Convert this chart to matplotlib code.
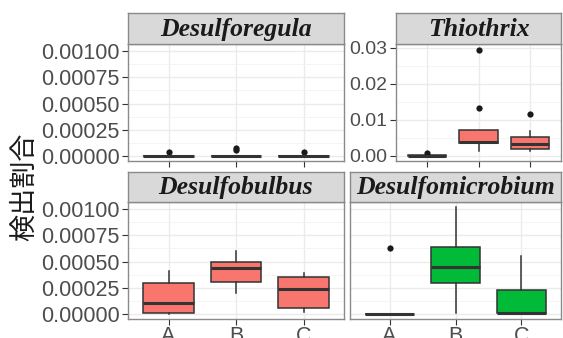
import matplotlib.pyplot as plt
from matplotlib.ticker import FixedLocator

# --- data (detection ratio per site) ---
groups = ["A", "B", "C"]
panel_names = ["Desulforegula", "Thiothrix", "Desulfobulbus", "Desulfomicrobium"]

# Desulforegula
dreg_lo = [0.0, 0.0, 0.0]
dreg_q1 = [0.0, 0.0, 0.0]
dreg_med = [0.0, 0.0, 0.0]
dreg_q3 = [0.0, 0.0, 0.0]
dreg_hi = [0.0, 0.0, 0.0]
dreg_out = [[0.000035], [0.000058, 0.000077], [0.000032]]

# Thiothrix
thio_lo = [0.0, 0.0012, 0.0012]
thio_q1 = [0.0, 0.0034, 0.00175]
thio_med = [0.0, 0.0039, 0.0031]
thio_q3 = [0.0001, 0.0071, 0.0051]
thio_hi = [0.0001, 0.0071, 0.0068]
thio_out = [[0.0006], [0.0131, 0.0294], [0.0116]]

# Desulfobulbus
dbul_lo = [0.0, 0.000203, 0.000016]
dbul_q1 = [0.000005, 0.000303, 0.000053]
dbul_med = [0.0001, 0.000434, 0.000234]
dbul_q3 = [0.000297, 0.0005, 0.00035]
dbul_hi = [0.000406, 0.0006, 0.00039]
dbul_out = [[], [], []]

# Desulfomicrobium
dmic_lo = [0.0, 0.00001, 0.0]
dmic_q1 = [0.0, 0.000297, 0.000003]
dmic_med = [0.0, 0.000443, 0.00001]
dmic_q3 = [0.0, 0.000637, 0.000228]
dmic_hi = [0.0, 0.00102, 0.000553]
dmic_out = [[0.000625], [], []]

small_ticks = [0.0, 0.00025, 0.0005, 0.00075, 0.001]
small_labels = ["0.00000", "0.00025", "0.00050", "0.00075", "0.00100"]
thio_ticks = [0.0, 0.01, 0.02, 0.03]
thio_labels = ["0.00", "0.01", "0.02", "0.03"]

RED = "#F8766D"
GREEN = "#00BA38"
DARK = "#333333"
TICK_TXT = "#4D4D4D"
FRAME = "#8A8A8A"

W, H = 563, 338
fig = plt.figure(figsize=(W / 100, H / 100), dpi=100)


def px_axes(x0, y0, x1, y1):
    # pixel box measured from the top-left corner of the image
    return fig.add_axes([x0 / W, 1 - y1 / H, (x1 - x0) / W, (y1 - y0) / H])


def make_stats(lo, q1, med, q3, hi, out):
    return [dict(whislo=lo[i], q1=q1[i], med=med[i], q3=q3[i], whishi=hi[i],
                 fliers=out[i]) for i in range(len(groups))]


def draw_panel(box, strip, title, stats, colour, ylim, ticks, labels,
               show_y, show_x, ysize=15.5):
    ax = px_axes(*box)
    ax.set_facecolor("white")
    ax.bxp(stats, positions=[1, 2, 3], widths=0.75, patch_artist=True,
           showcaps=False,
           boxprops=dict(facecolor=colour, edgecolor=DARK, linewidth=1.1),
           medianprops=dict(color=DARK, linewidth=2.2),
           whiskerprops=dict(color=DARK, linewidth=1.1),
           flierprops=dict(marker="o", markerfacecolor="#1a1a1a",
                           markeredgecolor="none", markersize=4.5))
    ax.set_xlim(0.4, 3.6)
    ax.set_ylim(*ylim)

    ax.yaxis.set_major_locator(FixedLocator(ticks))
    step = ticks[1] - ticks[0]
    minors = [t + step / 2 for t in ticks]
    ax.yaxis.set_minor_locator(FixedLocator(minors))
    ax.set_xticks([1, 2, 3])
    ax.grid(True, which="major", color="#EBEBEB", linewidth=1.0, zorder=0)
    ax.grid(True, which="minor", axis="y", color="#F2F2F2", linewidth=0.6,
            zorder=0)
    ax.set_axisbelow(True)

    if show_y:
        ax.set_yticklabels(labels)
        ax.tick_params(axis="y", which="major", length=4, width=0.8,
                       color=DARK, labelsize=ysize, labelcolor=TICK_TXT, pad=2)
    else:
        ax.tick_params(axis="y", which="major", length=0, labelleft=False)
    ax.tick_params(axis="y", which="minor", length=0)

    if show_x:
        ax.set_xticklabels(groups)
        ax.tick_params(axis="x", length=4, width=0.8, color=DARK,
                       labelsize=15.5, labelcolor=TICK_TXT, pad=1)
    else:
        ax.tick_params(axis="x", length=4, width=0.8, color=DARK,
                       labelbottom=False)
    for t in ax.get_yticklabels() + ax.get_xticklabels():
        t.set_family("Liberation Sans")
    for s in ax.spines.values():
        s.set_color(FRAME)
        s.set_linewidth(1.0)

    st = px_axes(*strip)
    st.set_facecolor("#D9D9D9")
    st.set_xticks([])
    st.set_yticks([])
    for s in st.spines.values():
        s.set_color(FRAME)
        s.set_linewidth(1.0)
    st.text(0.5, 0.47, title, transform=st.transAxes, ha="center",
            va="center", fontsize=18.5, fontweight="bold", fontstyle="italic",
            family="Liberation Serif", color="#1a1a1a")
    return ax


shared_ylim = (-0.00005, 0.00107)
thio_ylim = (-0.0015, 0.031)

draw_panel((128, 44, 344, 161), (128, 13, 344, 44), panel_names[0],
           make_stats(dreg_lo, dreg_q1, dreg_med, dreg_q3, dreg_hi, dreg_out),
           RED, shared_ylim, small_ticks, small_labels, True, False)
draw_panel((396, 44, 561, 161), (396, 13, 561, 44), panel_names[1],
           make_stats(thio_lo, thio_q1, thio_med, thio_q3, thio_hi, thio_out),
           RED, thio_ylim, thio_ticks, thio_labels, True, False, ysize=14)
draw_panel((128, 202, 344, 319), (128, 172, 344, 202), panel_names[2],
           make_stats(dbul_lo, dbul_q1, dbul_med, dbul_q3, dbul_hi, dbul_out),
           RED, shared_ylim, small_ticks, small_labels, True, True)
draw_panel((350, 202, 561, 319), (350, 172, 561, 202), panel_names[3],
           make_stats(dmic_lo, dmic_q1, dmic_med, dmic_q3, dmic_hi, dmic_out),
           GREEN, shared_ylim, small_ticks, small_labels, False, True)

fig.text(25 / W, 1 - 187 / H, "検出割合", rotation=90, ha="center",
         va="center", fontsize=19.5, color="#1a1a1a",
         family=["Noto Sans CJK JP", "DejaVu Sans"])

fig.savefig("out.png", dpi=100, facecolor="white")
